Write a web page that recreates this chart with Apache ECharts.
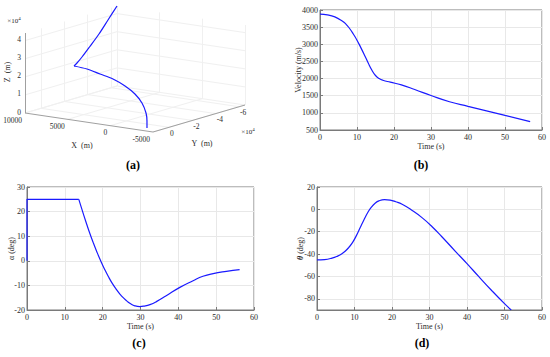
<!DOCTYPE html>
<html><head><meta charset="utf-8">
<script src="https://cdn.jsdelivr.net/npm/echarts@6/dist/echarts.min.js"></script>
<style>html,body{margin:0;padding:0;background:#fff}#c{width:550px;height:357px}</style>
</head><body><div id="c"></div>
<script>
// ---------- (a) 3-D trajectory (m) ----------
const trajX = [10000, 10000, 10000, 10000, 10000, 10000, 10000, 7930, 5860, 3790, 1830, 120, -1250, -2270, -2930, -3470];
const trajY = [-65100, -57390, -49680, -41550, -35120, -30840, -28270, -24270, -20270, -16270, -12270, -8270, -4270, -270, 3730, 7670];
const trajZ = [44200, 37920, 31650, 26010, 21700, 19190, 18020, 18570, 18020, 17460, 15720, 13260, 10000, 5940, 2750, 0];
const kinkIndex = 6;
const xLim3d = [-5000, 10000];
const yLim3d = [-65100, 13700];
const zLim3d = [0, 44200];
const xTicks3d = [-5000, 0, 5000, 10000];
const xTickLabels3d = ['-5000', '0', '5000', '10000'];
const yTicks3d = [-60000, -40000, -20000, 0];
const yTickLabels3d = ['-6', '-4', '-2', '0'];
const zTicks3d = [0, 10000, 20000, 30000, 40000];
const zTickLabels3d = ['0', '1', '2', '3', '4'];

// ---------- (b) velocity ----------
const timeV = [0, 2, 4, 6, 7, 8, 9, 10, 11, 12, 13, 14, 15, 16, 17, 19, 22, 25.6, 30, 35, 40, 45, 50, 56.8];
const velocity = [3880, 3860, 3800, 3680, 3590, 3460, 3300, 3120, 2910, 2690, 2460, 2250, 2090, 2000, 1950, 1895, 1815, 1680, 1505, 1325, 1190, 1060, 925, 745];

// ---------- (c) angle of attack ----------
const timeA1 = [0, 0, 13.7];
const alpha1 = [0, 25, 25];
const timeA2 = [13.7, 14.5, 15.5, 16.5, 17.5, 18.5, 19.5, 20.5, 21.5, 22.5, 23.5, 24.5, 25.5, 26.5, 27.5, 28.5, 29.8, 31, 32.5, 34.2, 36.8, 40.4, 43.9, 46.5, 49.2, 52.7, 56.2];
const alpha2 = [25, 21, 16.2, 11.6, 7.4, 3.5, -0.1, -3.4, -6.4, -9.1, -11.4, -13.4, -15.1, -16.5, -17.6, -18.3, -18.6, -18.4, -17.8, -16.6, -14.2, -10.8, -8.1, -6.3, -5.2, -4.3, -3.6];

// ---------- (d) flight path angle ----------
const timeT = [0, 2, 4, 5.5, 6.5, 7.5, 8.5, 9.5, 10.5, 11.5, 12.5, 13.5, 14.5, 15.5, 16.5, 18, 19.5, 21, 22.7, 25.3, 28, 30.7, 33.3, 36.9, 40, 43.1, 46.7, 50.2, 51.8];
const theta = [-45.2, -44.9, -43.6, -41.8, -40, -37.5, -34, -29.5, -23.5, -16.5, -9.5, -3, 2, 5.5, 7.6, 8.7, 8.3, 6.8, 4.5, -0.8, -7.4, -15.5, -24.5, -37.5, -48.5, -60, -73, -85, -90];

// ---------- styles / layout ----------
const FONT = 'Liberation Serif';
const LINE = '#1a1aff';
const AXC = '#7a7a7a';
const GRIDC = '#e8e8e8';
const GRID3 = '#f0f0f0';
const TXT = '#2b2b2b';

// 3-D view: screen anchors of box corners
const P0 = [25, 113];   // (xMax, yMax, 0)
const PX = [153, 132];  // (xMin, yMax, 0)
const PY = [245, 105];  // (xMin, yMin, 0)
const Z_PIX = 80;
function proj(x, y, z) {
  const fx = (xLim3d[1] - x) / (xLim3d[1] - xLim3d[0]);
  const fy = (yLim3d[1] - y) / (yLim3d[1] - yLim3d[0]);
  const fz = (z - zLim3d[0]) / (zLim3d[1] - zLim3d[0]);
  return [P0[0] + fx * (PX[0] - P0[0]) + fy * (PY[0] - PX[0]),
          P0[1] + fx * (PX[1] - P0[1]) + fy * (PY[1] - PX[1]) - fz * Z_PIX];
}
const [xMin, xMax] = xLim3d, [yMin, yMax] = yLim3d, [zMin, zMax] = zLim3d;

const gridSegs = [];
xTicks3d.forEach(x => {
  gridSegs.push([proj(x, yMin, 0), proj(x, yMax, 0)]);
  gridSegs.push([proj(x, yMin, zMin), proj(x, yMin, zMax)]);
});
yTicks3d.forEach(y => {
  gridSegs.push([proj(xMin, y, 0), proj(xMax, y, 0)]);
  gridSegs.push([proj(xMax, y, zMin), proj(xMax, y, zMax)]);
});
zTicks3d.forEach(z => {
  gridSegs.push([proj(xMax, yMin, z), proj(xMax, yMax, z)]);
  gridSegs.push([proj(xMin, yMin, z), proj(xMax, yMin, z)]);
});
const axisSegs = [
  [proj(xMax, yMax, 0), proj(xMin, yMax, 0)],
  [proj(xMin, yMax, 0), proj(xMin, yMin, 0)],
  [proj(xMax, yMax, zMin), proj(xMax, yMax, zMax)]
];

const traj = trajX.map((x, i) => proj(x, trajY[i], trajZ[i]));
const traj1 = traj.slice(0, kinkIndex + 1);
const traj2 = traj.slice(kinkIndex);

const graphics = [];
function txt(x, y, text, opt) {
  graphics.push(Object.assign({ type: 'text', x: x, y: y, silent: true,
    style: Object.assign({ text: text, fill: TXT, font: '8px "' + FONT + '"', align: 'center', verticalAlign: 'middle' }, (opt && opt.style) || {}) },
    (opt && opt.rotation != null) ? { rotation: opt.rotation } : {}));
}
const tickFont = '7.5px "' + FONT + '"';
zTicks3d.forEach((z, i) => { const p = proj(xMax, yMax, z); txt(p[0] - 4, p[1] - 1, zTickLabels3d[i], { style: { align: 'right', font: tickFont } }); });
xTicks3d.forEach((x, i) => { const p = proj(x, yMax, 0); txt(p[0] - 3, p[1] + 7, xTickLabels3d[i], { style: { align: 'right', font: tickFont } }); });
yTicks3d.forEach((y, i) => { const p = proj(xMin, y, 0); txt(p[0] + 1, p[1] + 6, yTickLabels3d[i], { style: { align: 'left', font: tickFont } }); });
const sup = { a: { fontFamily: FONT, fontSize: 7, color: TXT }, s: { fontFamily: FONT, fontSize: 5, color: TXT, padding: [0, 0, 5, 0] } };
const zTopP = proj(xMax, yMax, zMax);
txt(zTopP[0] - 11, zTopP[1] - 12, '{a|×10}{s|4}', { style: { rich: sup } });
const yEndP = proj(xMin, yMin, 0);
txt(yEndP[0] + 3, yEndP[1] + 27, '{a|×10}{s|4}', { style: { rich: sup } });
txt(82, 145, 'X  (m)');
txt(202, 143, 'Y  (m)');
txt(7, 72, 'Z  (m)', { rotation: Math.PI / 2 });
const bold = 'bold 12px "' + FONT + '"';
txt(133, 165, '(a)', { style: { font: bold, fill: '#000' } });
txt(421, 165, '(b)', { style: { font: bold, fill: '#000' } });
txt(139, 343, '(c)', { style: { font: bold, fill: '#000' } });
txt(422, 343, '(d)', { style: { font: bold, fill: '#000' } });

const plain = v => String(v);
function xAx(gi) {
  return { type: 'value', gridIndex: gi, min: 0, max: 60, interval: 10,
    axisLine: { show: true, onZero: false, lineStyle: { color: AXC, width: 1 } },
    axisTick: { show: true, inside: true, length: 3, lineStyle: { color: AXC } },
    axisLabel: { color: TXT, fontFamily: FONT, fontSize: 8, margin: 3, formatter: plain },
    splitLine: { show: true, lineStyle: { color: GRIDC, width: 1 } },
    name: 'Time (s)', nameLocation: 'middle', nameGap: 12, nameMoveOverlap: false,
    nameTextStyle: { color: TXT, fontFamily: FONT, fontSize: 8 } };
}
function yAx(gi, min, max, interval, name, gap, extra) {
  const o = { type: 'value', gridIndex: gi, min: min, max: max,
    axisLine: { show: true, onZero: false, lineStyle: { color: AXC, width: 1 } },
    axisTick: { show: true, inside: true, length: 3, lineStyle: { color: AXC } },
    axisLabel: { color: TXT, fontFamily: FONT, fontSize: 8, margin: 2, formatter: plain },
    splitLine: { show: true, lineStyle: { color: GRIDC, width: 1 } },
    name: name, nameLocation: 'middle', nameGap: gap, nameMoveOverlap: false,
    nameTextStyle: { color: TXT, fontFamily: FONT, fontSize: 8 } };
  if (interval != null) o.interval = interval;
  return Object.assign(o, extra || {});
}
const lineS = (xi, yi, xs, ys, smooth) => ({ type: 'line', xAxisIndex: xi, yAxisIndex: yi,
  data: xs.map((t, i) => [t, ys[i]]), showSymbol: false, smooth: smooth, silent: true,
  lineStyle: { color: LINE, width: 1.2 } });

const option = {
  animation: false,
  backgroundColor: '#fff',
  grid: [
    { left: 0, top: 0, width: 550, height: 357, show: false },
    { left: 320, top: 10, width: 222, height: 120, show: true, borderColor: AXC, borderWidth: 1, backgroundColor: 'transparent' },
    { left: 27, top: 187, width: 227, height: 123, show: true, borderColor: AXC, borderWidth: 1, backgroundColor: 'transparent' },
    { left: 317, top: 187, width: 225, height: 123, show: true, borderColor: AXC, borderWidth: 1, backgroundColor: 'transparent' }
  ],
  xAxis: [
    { type: 'value', gridIndex: 0, min: 0, max: 550, show: false },
    xAx(1), xAx(2), xAx(3)
  ],
  yAxis: [
    { type: 'value', gridIndex: 0, min: 0, max: 357, inverse: true, show: false },
    yAx(1, 500, 4000, 500, 'Velocity (m/s)', 18),
    yAx(2, -20, 30, 10, 'α (deg)', 12),
    yAx(3, -90, 20, null, '{t|θ} (deg)', 13, {
      splitNumber: 5,
      axisLabel: { color: TXT, fontFamily: FONT, fontSize: 8, margin: 2, showMinLabel: false, formatter: plain },
      nameTextStyle: { color: TXT, fontFamily: FONT, fontSize: 8, rich: { t: { fontFamily: FONT, fontSize: 8, fontWeight: 'bold', fontStyle: 'italic', color: TXT } } }
    })
  ],
  graphic: graphics,
  series: [
    { type: 'lines', coordinateSystem: 'cartesian2d', xAxisIndex: 0, yAxisIndex: 0, silent: true,
      data: gridSegs.map(s => ({ coords: s })), lineStyle: { color: GRID3, width: 1, opacity: 1 } },
    { type: 'lines', coordinateSystem: 'cartesian2d', xAxisIndex: 0, yAxisIndex: 0, silent: true,
      data: axisSegs.map(s => ({ coords: s })), lineStyle: { color: '#a0a0a0', width: 1, opacity: 1 } },
    { type: 'line', xAxisIndex: 0, yAxisIndex: 0, data: traj1, showSymbol: false, smooth: 0.3, silent: true, lineStyle: { color: LINE, width: 1.2 } },
    { type: 'line', xAxisIndex: 0, yAxisIndex: 0, data: traj2, showSymbol: false, smooth: 0.3, silent: true, lineStyle: { color: LINE, width: 1.2 } },
    lineS(1, 1, timeV, velocity, 0.5),
    lineS(2, 2, timeA1, alpha1, false),
    lineS(2, 2, timeA2, alpha2, 0.5),
    lineS(3, 3, timeT, theta, 0.5)
  ]
};
const chart = echarts.init(document.getElementById('c'), null, { renderer: 'svg' });
chart.setOption(option);
</script>
</body></html>
